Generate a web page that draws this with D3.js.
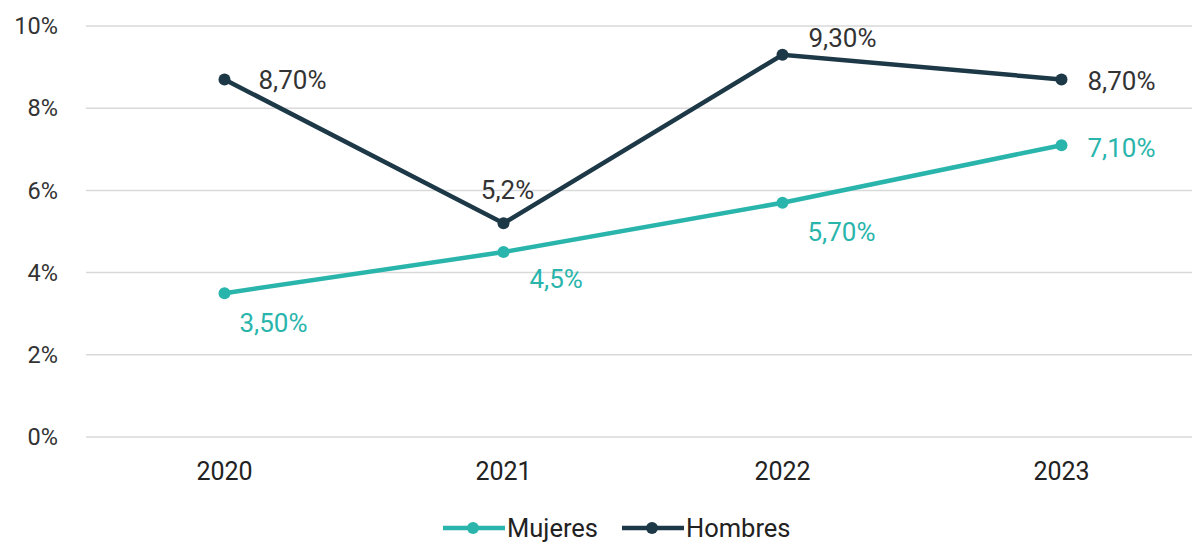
<!DOCTYPE html>
<html>
<head>
<meta charset="utf-8">
<script src="https://cdn.jsdelivr.net/npm/d3@7/dist/d3.min.js"></script>
<style>
  body { margin: 0; background: #fff; }
  text { font-family: Roboto, "Noto Sans", sans-serif; }
</style>
</head>
<body>
<div id="chart"></div>
<script>
// data
var years = ['2020', '2021', '2022', '2023'];
var mujeres = [3.5, 4.5, 5.7, 7.1];
var hombres = [8.7, 5.2, 9.3, 8.7];
var mujeresLabels = ['3,50%', '4,5%', '5,70%', '7,10%'];
var hombresLabels = ['8,70%', '5,2%', '9,30%', '8,70%'];
var yTicks = [0, 2, 4, 6, 8, 10];

var width = 1192, height = 542;
var colorM = '#2ab5ac', colorH = '#1d3847';

var svg = d3.select('#chart').append('svg')
    .attr('width', width)
    .attr('height', height);

var x = d3.scaleBand().domain(years).range([85, 1201]);
var y = d3.scaleLinear().domain([0, 10]).range([437, 26]);

// gridlines
svg.append('g').selectAll('line')
    .data(yTicks)
    .enter().append('line')
    .attr('x1', 86).attr('x2', width)
    .attr('y1', function(d) { return y(d); })
    .attr('y2', function(d) { return y(d); })
    .attr('stroke', '#d9d9d9')
    .attr('stroke-width', 1.5);

// y axis labels
svg.append('g').selectAll('text')
    .data(yTicks)
    .enter().append('text')
    .attr('x', 58)
    .attr('y', function(d) { return y(d); })
    .attr('dy', '0.35em')
    .attr('text-anchor', 'end')
    .attr('font-size', 23.5)
    .attr('fill', '#333')
    .text(function(d) { return d + '%'; });

// x axis labels
svg.append('g').selectAll('text')
    .data(years)
    .enter().append('text')
    .attr('x', function(d) { return x(d) + x.bandwidth() / 2; })
    .attr('y', 480)
    .attr('text-anchor', 'middle')
    .attr('font-size', 25)
    .attr('fill', '#222')
    .text(function(d) { return d; });

var cx = function(d, i) { return x(years[i]) + x.bandwidth() / 2; };
var line = d3.line()
    .x(function(d, i) { return cx(d, i); })
    .y(function(d) { return y(d); });

function drawSeries(values, color) {
    svg.append('path')
        .datum(values)
        .attr('d', line)
        .attr('fill', 'none')
        .attr('stroke', color)
        .attr('stroke-width', 4.5);
    svg.append('g').selectAll('circle')
        .data(values)
        .enter().append('circle')
        .attr('cx', cx)
        .attr('cy', function(d) { return y(d); })
        .attr('r', 6)
        .attr('fill', color);
}
drawSeries(mujeres, colorM);
drawSeries(hombres, colorH);

// data labels
var hOff = [[34, 0, 'start'], [4, -33, 'middle'], [26, -17, 'start'], [26, 1, 'start']];
var mOff = [[49, 30, 'middle'], [26, 27, 'start'], [59, 29, 'middle'], [26, 3, 'start']];

svg.append('g').selectAll('text')
    .data(hombres)
    .enter().append('text')
    .attr('x', function(d, i) { return cx(d, i) + hOff[i][0]; })
    .attr('y', function(d, i) { return y(d) + hOff[i][1]; })
    .attr('dy', '0.35em')
    .attr('text-anchor', function(d, i) { return hOff[i][2]; })
    .attr('font-size', 26)
    .attr('fill', '#333')
    .text(function(d, i) { return hombresLabels[i]; });

svg.append('g').selectAll('text')
    .data(mujeres)
    .enter().append('text')
    .attr('x', function(d, i) { return cx(d, i) + mOff[i][0]; })
    .attr('y', function(d, i) { return y(d) + mOff[i][1]; })
    .attr('dy', '0.35em')
    .attr('text-anchor', function(d, i) { return mOff[i][2]; })
    .attr('font-size', 26)
    .attr('fill', colorM)
    .text(function(d, i) { return mujeresLabels[i]; });

// legend
var legend = [
    {name: 'Mujeres', color: colorM, x: 443},
    {name: 'Hombres', color: colorH, x: 622}
];
var lg = svg.append('g').selectAll('g')
    .data(legend)
    .enter().append('g')
    .attr('transform', function(d) { return 'translate(' + d.x + ',528)'; });
lg.append('line')
    .attr('x1', 0).attr('x2', 62)
    .attr('stroke', function(d) { return d.color; })
    .attr('stroke-width', 4.5);
lg.append('circle')
    .attr('cx', 30).attr('r', 6)
    .attr('fill', function(d) { return d.color; });
lg.append('text')
    .attr('x', 64)
    .attr('dy', '0.35em')
    .attr('font-size', 25.5)
    .attr('fill', '#222')
    .text(function(d) { return d.name; });
</script>
</body>
</html>
